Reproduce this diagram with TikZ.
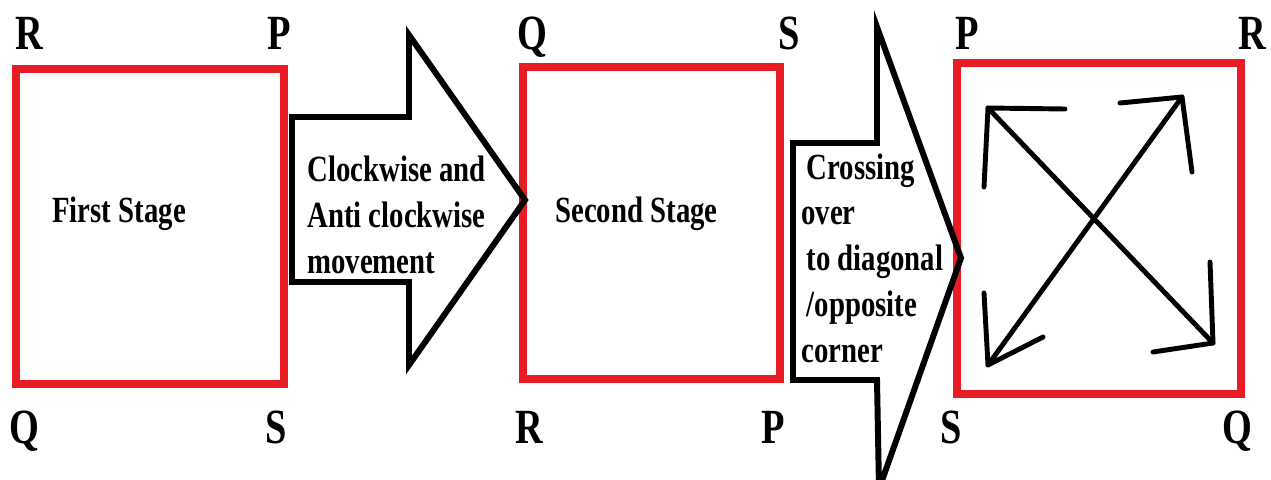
\documentclass[tikz,border=0pt]{standalone}
\usepackage{fontspec}
\setmainfont{Liberation Serif}
\newfontfamily\stagefont[FakeStretch=0.78]{Liberation Serif}
\usepackage{xcolor}
\usetikzlibrary{positioning}
\definecolor{stagered}{RGB}{232,28,36}

\tikzset{
    stagebox/.style={draw=stagered, line width=4.5pt, inner sep=0pt},
    corner/.style={anchor=base west, inner sep=0pt, font=\stagefont\bfseries\fontsize{28}{30}\selectfont},
    stagetext/.style={anchor=base west, inner sep=0pt, align=left, font=\stagefont\bfseries\fontsize{21}{26}\selectfont},
    bigarrow/.style={line width=3.4pt, line join=miter},
    cross/.style={line width=2.8pt, line cap=round, line join=round}
}

\begin{document}
\begin{tikzpicture}[x=0.02cm, y=-0.02cm]
    \useasboundingbox (0,0) rectangle (1271,480);
    \node[stagebox, minimum width=5.36cm, minimum height=6.3cm] (box1) at (150,226.5) {};
    \node[stagebox, minimum width=5.14cm, minimum height=6.24cm] (box2) at (651.5,223) {};
    \node[stagebox, minimum width=5.68cm, minimum height=6.62cm] (box3) at (1099,228.5) {};

    \node[corner] (r1) at (15,50) {R};
    \node[corner] (p1) at (267,50) {P};
    \node[corner] (q1) at (9,443) {Q};
    \node[corner] (s1) at (265,443) {S};
    \node[corner] (q2) at (517,50) {Q};
    \node[corner] (s2) at (778,50) {S};
    \node[corner] (r2) at (515,443) {R};
    \node[corner] (p2) at (761,443) {P};
    \node[corner] (p3) at (955,50) {P};
    \node[corner] (r3) at (1238,50) {R};
    \node[corner] (s3) at (940,443) {S};
    \node[corner] (q3) at (1222,443) {Q};

    \node[stagetext] (first) at (52,222) {First Stage};
    \node[stagetext] (second) at (555,222) {Second Stage};

    \draw[bigarrow] (292,117) -- (409,117) -- (409,35) -- (525,200) -- (409,365) -- (409,282) -- (292,282) -- cycle;
    \node[stagetext] (move) at (307,273) {Clockwise and\\Anti clockwise\\movement};

    \draw[bigarrow] (793,143) -- (877,143) -- (877,27) -- (961,258) -- (879,489) -- (877,380) -- (793,380) -- cycle;
    \node[stagetext] (cross) at (801,362) {\hspace*{3pt}Crossing\\over\\\hspace*{3pt}to diagonal\\\hspace*{3pt}/opposite\\corner};

    \coordinate (pt) at (988,108);
    \coordinate (qt) at (1213,343);
    \coordinate (st) at (988,365);
    \coordinate (rt) at (1182,97);
    \draw[cross] (pt) -- (qt);
    \draw[cross] (st) -- (rt);
    \draw[cross] (1065,109) -- (pt) -- (984,187);
    \draw[cross] (1210,262) -- (qt) -- (1153,352);
    \draw[cross] (984,293) -- (st) -- (1043,337);
    \draw[cross] (1120,103) -- (rt) -- (1192,172);
\end{tikzpicture}
\end{document}
